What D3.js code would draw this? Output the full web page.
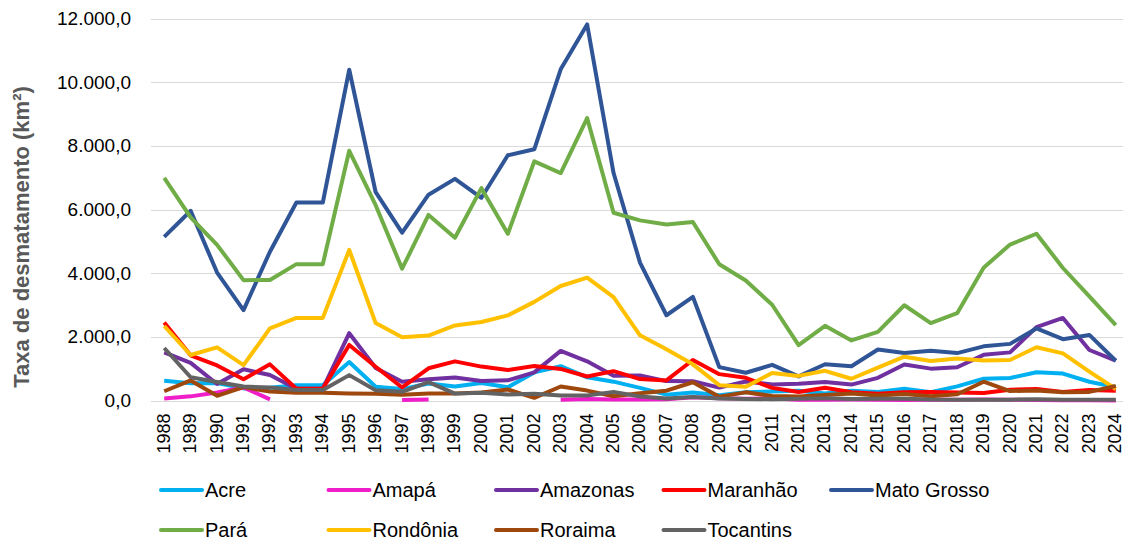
<!DOCTYPE html>
<html>
<head>
<meta charset="utf-8">
<script src="https://cdn.jsdelivr.net/npm/d3@7"></script>
<style>
  body { margin: 0; background: #fff; }
  text { font-family: "Liberation Sans", Arial, sans-serif; }
</style>
</head>
<body>
<div id="vis"></div>
<script>
var width = 1123,
    height = 540;

// anos (categorias)
var years = d3.range(1988, 2025).map(String);

// taxas por estado (km²), null = sem dado
var acre = [620, 540, 550, 380, 400, 482, 482, 1208, 433, 358, 536, 441, 547, 419, 883, 1078, 728, 592, 398, 184, 254, 167, 259, 280, 305, 221, 309, 264, 372, 257, 444, 682, 706, 889, 847, 590, 420];
var amapa = [60, 130, 250, 410, 36, null, null, null, null, 18, 30, null, null, null, null, 25, 46, 33, 30, 39, 100, 70, 53, 66, 27, 23, 31, 25, 17, 24, 24, 32, 24, 17, 6, 4, 3];
var amazonas = [1510, 1180, 520, 980, 799, 370, 370, 2114, 1023, 589, 670, 720, 612, 634, 885, 1558, 1232, 775, 788, 610, 604, 405, 595, 502, 523, 583, 500, 712, 1129, 1001, 1045, 1434, 1512, 2306, 2594, 1587, 1250];
var maranhao = [2450, 1420, 1100, 670, 1135, 372, 372, 1745, 1061, 409, 1012, 1230, 1065, 958, 1085, 993, 755, 922, 674, 631, 1271, 828, 712, 396, 269, 403, 257, 209, 258, 265, 253, 237, 336, 363, 271, 330, 310];
var matoGrosso = [5140, 5960, 4020, 2840, 4674, 6220, 6220, 10391, 6543, 5271, 6466, 6963, 6369, 7703, 7892, 10405, 11814, 7145, 4333, 2678, 3258, 1049, 871, 1120, 757, 1139, 1075, 1601, 1489, 1561, 1490, 1702, 1779, 2263, 1927, 2060, 1250];
var para = [6990, 5750, 4890, 3780, 3787, 4284, 4284, 7845, 6135, 4139, 5829, 5111, 6671, 5237, 7510, 7145, 8870, 5899, 5659, 5526, 5607, 4281, 3770, 3008, 1741, 2346, 1887, 2153, 2992, 2433, 2744, 4172, 4899, 5238, 4162, 3272, 2370];
var rondonia = [2340, 1430, 1670, 1110, 2265, 2595, 2595, 4730, 2432, 1986, 2041, 2358, 2465, 2673, 3099, 3597, 3858, 3244, 2049, 1611, 1136, 482, 435, 865, 773, 932, 684, 1030, 1376, 1243, 1316, 1257, 1273, 1673, 1480, 905, 360];
var roraima = [290, 630, 150, 420, 281, 240, 240, 220, 214, 184, 223, 220, 253, 345, 84, 439, 311, 133, 231, 309, 574, 121, 256, 141, 124, 170, 219, 156, 202, 132, 195, 590, 297, 315, 260, 270, 455];
var tocantins = [1650, 730, 580, 440, 409, 333, 333, 797, 320, 273, 576, 216, 244, 189, 212, 156, 158, 271, 124, 63, 107, 61, 49, 40, 52, 74, 50, 57, 58, 31, 25, 23, 25, 37, 27, 25, 20];

var yTicks = [0, 2000, 4000, 6000, 8000, 10000, 12000];

var series = [
  { name: "Acre", values: acre, color: "#00B0F0" },
  { name: "Amapá", values: amapa, color: "#F01EC8" },
  { name: "Amazonas", values: amazonas, color: "#7030A0" },
  { name: "Maranhão", values: maranhao, color: "#FF0000" },
  { name: "Mato Grosso", values: matoGrosso, color: "#2F5597" },
  { name: "Pará", values: para, color: "#70AD47" },
  { name: "Rondônia", values: rondonia, color: "#FFC000" },
  { name: "Roraima", values: roraima, color: "#9E480E" },
  { name: "Tocantins", values: tocantins, color: "#636363" }
];

var svg = d3.select("#vis").append("svg")
    .attr("width", width)
    .attr("height", height);

var plotLeft = 151, plotRight = 1129, plotTop = 18.5, plotBottom = 400.5;

var x = d3.scaleBand().domain(years).range([plotLeft, plotRight]);
var y = d3.scaleLinear().domain([0, 12000]).range([plotBottom, plotTop]);

var ptBR = d3.formatLocale({ decimal: ",", thousands: ".", grouping: [3], currency: ["R$", ""] });
var fmt = ptBR.format(",.1f");

// grade horizontal
svg.append("g")
    .selectAll("line")
    .data(yTicks)
    .enter().append("line")
      .attr("x1", plotLeft)
      .attr("x2", width)
      .attr("y1", function(d) { return Math.round(y(d)) + 0.5; })
      .attr("y2", function(d) { return Math.round(y(d)) + 0.5; })
      .attr("stroke", "#d9d9d9")
      .attr("stroke-width", 1);

// eixo y
var yAxis = svg.append("g")
    .attr("transform", "translate(" + plotLeft + ",0)")
    .call(d3.axisLeft(y).tickValues(yTicks).tickFormat(fmt).tickSize(0).tickPadding(20));
yAxis.select(".domain").remove();
yAxis.selectAll("text")
    .attr("font-size", 19)
    .attr("fill", "#000")
    .style("font-family", "Liberation Sans, Arial, sans-serif");

// eixo x (anos rotacionados)
var xAxis = svg.append("g")
    .attr("transform", "translate(0," + plotBottom + ")")
    .call(d3.axisBottom(x).tickSize(0).tickPadding(0));
xAxis.select(".domain").remove();
xAxis.selectAll("text")
    .attr("font-size", 18)
    .attr("fill", "#000")
    .style("font-family", "Liberation Sans, Arial, sans-serif")
    .attr("text-anchor", "end")
    .attr("dy", "0.33em")
    .attr("transform", "translate(-0.5,13) rotate(-90)")
    .attr("x", 0)
    .attr("y", 0);

// título do eixo y
svg.append("text")
    .attr("transform", "translate(29,237) rotate(-90)")
    .attr("text-anchor", "middle")
    .attr("font-size", 22)
    .attr("font-weight", "bold")
    .attr("fill", "#595959")
    .text("Taxa de desmatamento (km²)");

var line = d3.line()
    .defined(function(d) { return d != null; })
    .x(function(d, i) { return x(years[i]) + x.bandwidth() / 2; })
    .y(function(d) { return y(d); });

svg.append("g")
    .selectAll("path")
    .data(series)
    .enter().append("path")
      .attr("fill", "none")
      .attr("stroke", function(d) { return d.color; })
      .attr("stroke-width", 4)
      .attr("stroke-linejoin", "round")
      .attr("d", function(d) { return line(d.values); });

// legenda: 5 colunas, 2 linhas
var legend = svg.append("g")
    .selectAll("g")
    .data(series)
    .enter().append("g")
      .attr("transform", function(d, i) {
        return "translate(" + (161 + (i % 5) * 167.5) + "," + (490 + Math.floor(i / 5) * 40) + ")";
      });

legend.append("line")
    .attr("x1", 0)
    .attr("x2", 41)
    .attr("stroke", function(d) { return d.color; })
    .attr("stroke-width", 4)
    .attr("stroke-linecap", "round");

legend.append("text")
    .attr("x", 44)
    .attr("dy", "0.35em")
    .attr("font-size", 20)
    .attr("fill", "#000")
    .text(function(d) { return d.name; });
</script>
</body>
</html>
